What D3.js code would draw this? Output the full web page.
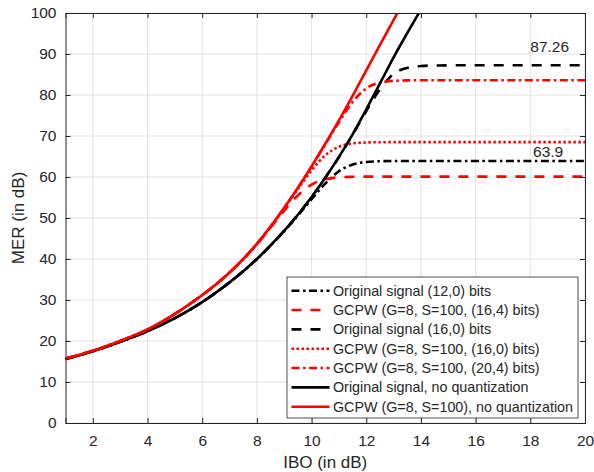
<!DOCTYPE html>
<html><head><meta charset="utf-8">
<script src="https://cdn.jsdelivr.net/npm/d3@7"></script>
<style>
body{margin:0;background:#fff;}
text{font-family:"Liberation Sans",Arial,Helvetica,sans-serif;fill:#262626;}
</style></head>
<body>
<svg id="c" width="594" height="472"></svg>
<script>
// ---- data ----
const xTicks = [2,4,6,8,10,12,14,16,18,20];
const yTicks = [0,10,20,30,40,50,60,70,80,90,100];

const ibo = [1,2,3,4,5,6,6.5,7,7.5,8,8.5,9,9.5,10,10.5,11,11.5,12,12.5,13,13.5,14,14.5,15,16,17,18,19,20];

// Original signal, no quantization
const origNoQ = [15.6,17.5,19.8,22.4,25.6,29.5,31.8,34.3,37.0,40.0,43.3,46.9,50.8,55.1,59.8,64.9,70.4,76.5,82.8,89.2,95.1,100.8,106,111,null,null,null,null,null];
// GCPW, no quantization
const gcpwNoQ = [15.7,17.6,20.0,22.8,26.6,31.2,33.8,36.7,40.0,43.7,47.9,52.5,57.4,62.6,68.1,73.8,79.8,86.0,92.2,98.3,104.4,110,null,null,null,null,null,null,null];
// Original signal (12,0) bits
const orig12 = [15.6,17.5,19.8,22.4,25.6,29.5,31.8,34.3,37.0,40.0,43.3,46.8,50.6,54.6,58.4,61.4,63.04,63.67,63.84,63.89,63.9,63.9,63.9,63.9,63.9,63.9,63.9,63.9,63.9];
// GCPW (16,4) bits
const gcpw164 = [15.7,17.6,20.0,22.8,26.6,31.2,33.8,36.7,39.95,43.6,47.65,51.8,55.53,58.16,59.46,59.92,60.05,60.1,60.1,60.1,60.1,60.1,60.1,60.1,60.1,60.1,60.1,60.1,60.1];
// Original signal (16,0) bits
const orig16 = [15.6,17.5,19.8,22.4,25.6,29.5,31.8,34.3,37.0,40.0,43.3,46.9,50.8,55.1,59.8,64.8,70.3,76.1,81.4,85.15,86.6,87.06,87.2,87.24,87.26,87.26,87.26,87.26,87.26];
// GCPW (16,0) bits
const gcpw160 = [15.7,17.6,20.0,22.8,26.6,31.2,33.8,36.7,40.0,43.65,47.86,52.39,57.08,61.61,65.29,67.38,68.19,68.42,68.48,68.5,68.5,68.5,68.5,68.5,68.5,68.5,68.5,68.5,68.5];
// GCPW (20,4) bits
const gcpw204 = [15.7,17.6,20.0,22.8,26.6,31.2,33.8,36.7,40.0,43.7,47.9,52.48,57.35,62.57,67.98,73.37,78.29,81.63,83.04,83.45,83.56,83.59,83.6,83.6,83.6,83.6,83.6,83.6,83.6];

const seriesNames = [
  "Original signal (12,0) bits",
  "GCPW (G=8, S=100, (16,4) bits)",
  "Original signal (16,0) bits",
  "GCPW (G=8, S=100, (16,0) bits)",
  "GCPW (G=8, S=100, (20,4) bits)",
  "Original signal, no quantization",
  "GCPW (G=8, S=100), no quantization"
];
const seriesValues = [orig12, gcpw164, orig16, gcpw160, gcpw204, origNoQ, gcpwNoQ];
const seriesColors = ["#000","#ff0000","#000","#ff0000","#ff0000","#000","#ff0000"];
const seriesDash = ["8,3.5,2.5,3.5","10,9","10,9","2.5,2.5","8,3.5,2.5,3.5",null,null];

const annotations = [
  {text:"87.26", x:18.0, y:91.8},
  {text:"63.9", x:18.1, y:66.3}
];

// ---- layout ----
const svg = d3.select("#c");
const L = 65.5, R = 585, T = 13, B = 423;
const x = d3.scaleLinear().domain([1,20]).range([L,R]);
const y = d3.scaleLinear().domain([0,100]).range([B,T]);
const axisCol = "#262626";

// grid
const g = svg.append("g");
g.selectAll(".gx").data(xTicks).enter().append("line")
  .attr("x1",d=>x(d)).attr("x2",d=>x(d)).attr("y1",T).attr("y2",B)
  .attr("stroke","#e3e3e3").attr("stroke-width",1);
g.selectAll(".gy").data(yTicks).enter().append("line")
  .attr("y1",d=>y(d)).attr("y2",d=>y(d)).attr("x1",L).attr("x2",R)
  .attr("stroke","#e3e3e3").attr("stroke-width",1);

// clip
svg.append("clipPath").attr("id","clip").append("rect")
  .attr("x",L).attr("y",T).attr("width",R-L).attr("height",B-T);

const line = d3.line()
  .defined(d=>d[1]!==null)
  .x(d=>x(d[0])).y(d=>y(d[1]))
  .curve(d3.curveMonotoneX);

const plot = svg.append("g").attr("clip-path","url(#clip)");
seriesValues.forEach((vals,i)=>{
  const pts = ibo.map((v,j)=>[v, vals[j]]);
  plot.append("path").datum(pts)
    .attr("d",line).attr("fill","none")
    .attr("stroke",seriesColors[i]).attr("stroke-width",2.6)
    .attr("stroke-dasharray",seriesDash[i]);
});

// axes (box with inner ticks)
const ax = svg.append("g");
const xb = d3.axisBottom(x).tickValues(xTicks).tickSize(-5).tickPadding(12).tickFormat(d3.format("d"));
const yl = d3.axisLeft(y).tickValues(yTicks).tickSize(-5).tickPadding(9).tickFormat(d3.format("d"));
const xt = d3.axisTop(x).tickValues(xTicks).tickSize(-5).tickFormat("");
const yr = d3.axisRight(y).tickValues(yTicks).tickSize(-5).tickFormat("");
[[xb,`translate(0,${B})`],[yl,`translate(${L},0)`],[xt,`translate(0,${T})`],[yr,`translate(${R},0)`]].forEach(([a,t])=>{
  const gg = ax.append("g").attr("transform",t).call(a);
  gg.select(".domain").attr("stroke",axisCol).attr("stroke-width",1);
  gg.selectAll(".tick line").attr("stroke",axisCol);
  gg.selectAll(".tick text").style("font-size","15.5px").attr("fill",axisCol)
    .style("font-family",'"Liberation Sans",Arial,sans-serif');
});

// axis labels
svg.append("text").attr("x",(L+R)/2).attr("y",468).attr("text-anchor","middle")
  .style("font-size","17px").text("IBO (in dB)");
svg.append("text").attr("transform",`translate(24,${(T+B)/2}) rotate(-90)`)
  .attr("text-anchor","middle").style("font-size","17px").text("MER (in dB)");

// annotations
svg.selectAll(".ann").data(annotations).enter().append("text")
  .attr("x",d=>x(d.x)).attr("y",d=>y(d.y)).attr("dy","0.35em")
  .style("font-size","15.5px").text(d=>d.text);

// legend
const lg = svg.append("g");
lg.append("rect").attr("x",287).attr("y",277).attr("width",291).attr("height",141)
  .attr("fill","#fff").attr("stroke",axisCol).attr("stroke-width",0.8);
seriesNames.forEach((n,i)=>{
  const yy = 290.7 + i*19.33;
  lg.append("line").attr("x1",291.5).attr("x2",329.5).attr("y1",yy).attr("y2",yy)
    .attr("stroke",seriesColors[i]).attr("stroke-width",2.6)
    .attr("stroke-dasharray",seriesDash[i]);
  lg.append("text").attr("x",333).attr("y",yy).attr("dy","0.35em")
    .style("font-size","14.3px").text(n);
});
</script>
</body></html>
